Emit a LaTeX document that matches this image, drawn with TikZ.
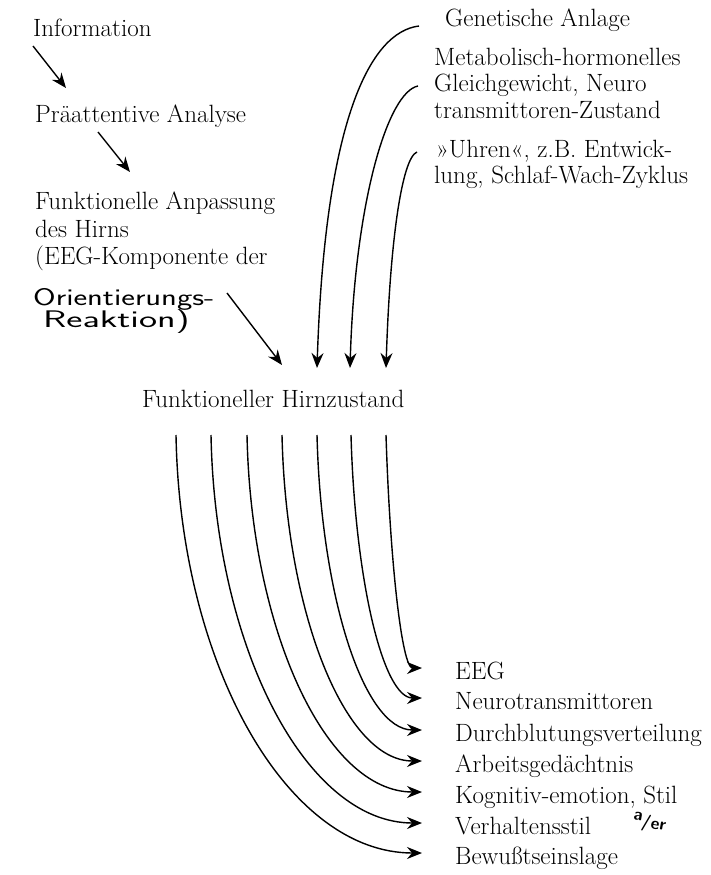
\documentclass[tikz,border=0pt]{standalone}
\usepackage{fontspec}
\usetikzlibrary{arrows.meta}
\tikzset{
  txt/.style={anchor=base west, inner sep=0pt, font=\fontsize{25}{29}\selectfont},
  hand/.style={anchor=base west, inner sep=0pt, font=\sffamily\fontsize{24}{28}\selectfont},
  arr/.style={line width=1.4pt, -{Stealth[length=15pt,width=12pt,inset=5pt]}},
}
\begin{document}
\begin{tikzpicture}[x=1pt,y=-1pt]
\useasboundingbox[fill=white] (0,0) rectangle (710,875);
% left column
\node[txt] (info) at (33,37) {Information};
\node[txt] (prae) at (35,122) {Präattentive Analyse};
\node[txt] (funk1) at (35,209) {Funktionelle Anpassung};
\node[txt] (funk2) at (35,237) {des Hirns};
\node[txt] (funk3) at (35,264) {(EEG-Komponente der};
\node[hand] (orient) at (33,305) {\scalebox{1.36}[1]{Orientierungs-}};
\node[hand] (reakt) at (43,327) {\scalebox{1.6}[1]{Reaktion)}};
\node[txt] (hirn) at (142,407) {Funktioneller Hirnzustand};
% right column
\node[txt] (gen) at (445,27) {Genetische Anlage};
\node[txt] (meta1) at (434,66) {Metabolisch-hormonelles};
\node[txt] (meta2) at (434,92) {Gleichgewicht, Neuro};
\node[txt] (meta3) at (434,118) {transmittoren-Zustand};
\node[txt] (uhr1) at (436,157) {»Uhren«, z.B. Entwick-};
\node[txt] (uhr2) at (434,183) {lung, Schlaf-Wach-Zyklus};
% bottom list
\node[txt] (eeg) at (455,679) {EEG};
\node[txt] (neuro) at (455,709) {Neurotransmittoren};
\node[txt] (durch) at (455,741) {Durchblutungsverteilung};
\node[txt] (arbeit) at (455,772) {Arbeitsgedächtnis};
\node[txt] (kogn) at (455,803) {Kognitiv-emotion, Stil};
\node[txt] (verh) at (455,834) {Verhaltensstil};
\node[txt] (bew) at (455,864) {Bewußtseinslage};
\node[hand, font=\sffamily\bfseries\fontsize{17}{17}\selectfont, rotate=-10] (anno) at (632,825) {\raisebox{6pt}{a}/er};
% straight arrows
\draw[arr] ([shift={(0,9)}]info.base west) -- ([shift={(31,-34)}]prae.base west);
\draw[arr] ([shift={(63,10)}]prae.base west) -- ([shift={(95,-37)}]funk1.base west);
\draw[arr] ([shift={(194,-12)}]orient.base west) -- ([shift={(140,-42)}]hirn.base west);
% curved arrows from the right
\draw[arr] ([shift={(-26,-1)}]gen.base west) .. controls +(-49,6) and +(8,-248) .. ([shift={(175,-39)}]hirn.base west);
\draw[arr] ([shift={(-16,-6)}]meta2.base west) .. controls +(-30,6) and +(5,-168) .. ([shift={(208,-39)}]hirn.base west);
\draw[arr] ([shift={(-19,-5)}]uhr1.base west) .. controls +(-15,6) and +(4,-128) .. ([shift={(244,-39)}]hirn.base west);
% fan of arrows to the list
\draw[arr] ([shift={(34,28)}]hirn.base west) .. controls +(4,230) and +(-135,0) .. ([shift={(-33,-11)}]bew.base west);
\draw[arr] ([shift={(69,28)}]hirn.base west) .. controls +(4,213) and +(-116,0) .. ([shift={(-33,-11)}]verh.base west);
\draw[arr] ([shift={(105,28)}]hirn.base west) .. controls +(4,196) and +(-96,0) .. ([shift={(-33,-11)}]kogn.base west);
\draw[arr] ([shift={(140,28)}]hirn.base west) .. controls +(4,179) and +(-77,0) .. ([shift={(-33,-11)}]arbeit.base west);
\draw[arr] ([shift={(175,28)}]hirn.base west) .. controls +(4,162) and +(-58,0) .. ([shift={(-33,-11)}]durch.base west);
\draw[arr] ([shift={(209,28)}]hirn.base west) .. controls +(4,145) and +(-39,0) .. ([shift={(-33,-11)}]neuro.base west);
\draw[arr] ([shift={(244,28)}]hirn.base west) .. controls +(4,128) and +(-20,0) .. ([shift={(-33,-11)}]eeg.base west);
\end{tikzpicture}
\end{document}
